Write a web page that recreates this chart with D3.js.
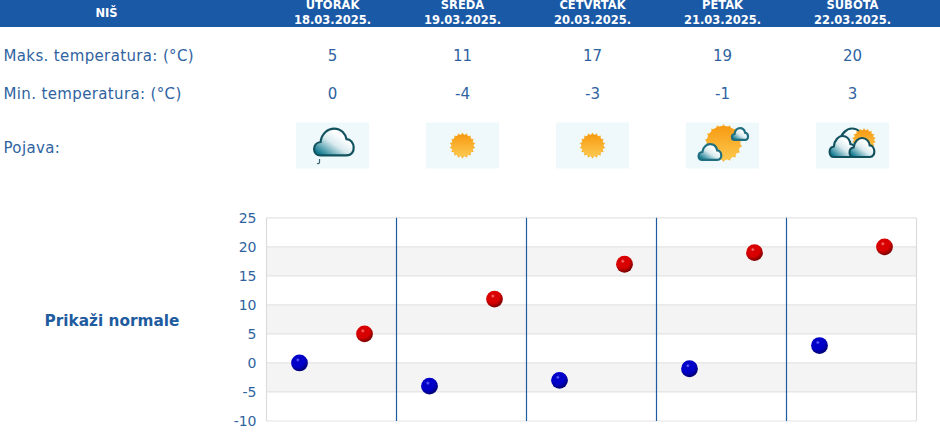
<!DOCTYPE html>
<html>
<head>
<meta charset="utf-8">
<title>NIŠ</title>
<style>
  html, body { margin: 0; padding: 0; background: #fff; overflow: hidden; }
  text { font-family: "DejaVu Sans", sans-serif; fill: #2f639f; }
  .row { font-size: 15px; letter-spacing: 0.36px; }
</style>
<script src="https://d3js.org/d3.v7.min.js"></script>
</head>
<body>
<svg id="chart" width="940" height="443"></svg>
<script>
var city = "NIŠ";
var days = ["UTORAK", "SREDA", "ČETVRTAK", "PETAK", "SUBOTA"];
var dates = ["18.03.2025.", "19.03.2025.", "20.03.2025.", "21.03.2025.", "22.03.2025."];
var maxTemps = [5, 11, 17, 19, 20];
var minTemps = [0, -4, -3, -1, 3];
var weather = ["rain", "sun", "sun", "sunCloud", "cloudSun"];
var yTicks = [25, 20, 15, 10, 5, 0, -5, -10];

var blue = "#2f639f";
var svg = d3.select("#chart");
var defs = svg.append("defs");

function ballGradient(id, light, mid, dark) {
  var g = defs.append("radialGradient").attr("id", id)
    .attr("cx", "40%").attr("cy", "32%").attr("r", "68%");
  g.append("stop").attr("offset", "0%").attr("stop-color", light);
  g.append("stop").attr("offset", "18%").attr("stop-color", mid);
  g.append("stop").attr("offset", "60%").attr("stop-color", mid);
  g.append("stop").attr("offset", "100%").attr("stop-color", dark);
}
ballGradient("ballRed", "#ff8a8a", "#d80000", "#780000");
ballGradient("ballBlue", "#7a7aff", "#0000c8", "#000070");

var sunGrad = defs.append("linearGradient").attr("id", "sunGrad").attr("x1", 0).attr("y1", 0).attr("x2", 0).attr("y2", 1);
sunGrad.append("stop").attr("offset", "0%").attr("stop-color", "#f79a12");
sunGrad.append("stop").attr("offset", "100%").attr("stop-color", "#fdc94e");

var cloudGrad = defs.append("linearGradient").attr("id", "cloudGrad").attr("x1", 0.05).attr("y1", 0.85).attr("x2", 0.65).attr("y2", 0.25);
cloudGrad.append("stop").attr("offset", "0%").attr("stop-color", "#107a90");
cloudGrad.append("stop").attr("offset", "60%").attr("stop-color", "#d8eaee");
cloudGrad.append("stop").attr("offset", "100%").attr("stop-color", "#ffffff");

// scales
var x = d3.scaleBand().domain(days).range([266.5, 916.5]);
var inner = d3.scaleBand().domain(["min", "max"]).range([0, x.bandwidth()]);
var y = d3.scaleLinear().domain([-10, 25]).range([421, 217.8]);
var colShift = 1; // table columns sit 1px right of the plot bands

// header
svg.append("rect").attr("x", 0).attr("y", 0).attr("width", 940).attr("height", 27).attr("fill", "#1a59a6");
svg.append("text").attr("x", 106.5).attr("y", 17).attr("text-anchor", "middle")
  .attr("font-size", 11.5).attr("font-weight", "bold").style("fill", "#fff").text(city);

var cols = svg.append("g").selectAll("g").data(days).join("g")
  .attr("transform", function (d) { return "translate(" + (x(d) + x.bandwidth() / 2 + colShift) + ",0)"; });

cols.append("text").attr("y", 9).attr("text-anchor", "middle")
  .attr("font-size", 11.5).attr("font-weight", "bold").style("fill", "#fff")
  .text(function (d) { return d; });
cols.append("text").attr("y", 24).attr("text-anchor", "middle")
  .attr("font-size", 11.5).attr("font-weight", "bold").style("fill", "#fff")
  .text(function (d, i) { return dates[i]; });

cols.append("text").attr("y", 61).attr("text-anchor", "middle").attr("font-size", 15)
  .text(function (d, i) { return maxTemps[i]; });
cols.append("text").attr("y", 99).attr("text-anchor", "middle").attr("font-size", 15)
  .text(function (d, i) { return minTemps[i]; });

// row labels
svg.append("text").attr("class", "row").attr("x", 3.5).attr("y", 61).text("Maks. temperatura: (°C)");
svg.append("text").attr("class", "row").attr("x", 3.5).attr("y", 99).text("Min. temperatura: (°C)");
svg.append("text").attr("class", "row").attr("x", 3.5).attr("y", 153).text("Pojava:");
svg.append("text").attr("x", 112).attr("y", 326).attr("text-anchor", "middle")
  .attr("font-size", 15.3).attr("font-weight", "bold").style("fill", "#1f5c9f").text("Prikaži normale");

// weather icons
function drawSun(g, cx, cy, r) {
  var tooth = "M-2,-" + (r - 1) + "L0,-" + (r + 2) + "L2,-" + (r - 1) + "Z";
  d3.range(0, 360, 20).forEach(function (a) {
    g.append("path").attr("d", tooth)
      .attr("fill", "#f9ae2c")
      .attr("transform", "translate(" + cx + "," + cy + ") rotate(" + a + ")");
  });
  g.append("circle").attr("cx", cx).attr("cy", cy).attr("r", r).attr("fill", "url(#sunGrad)");
}

function drawCloud(g, cx, cy, sx, sy, stroke) {
  var d = "M-14,14 C-23,14 -23,1 -14,0 C-13,-9 -6,-14 0,-14 C8,-14 12,-8 13,-3 C22,-3 24,14 13,14 Z";
  g.append("path").attr("d", d)
    .attr("transform", "translate(" + cx + "," + cy + ") scale(" + sx + "," + sy + ")")
    .attr("fill", "url(#cloudGrad)").attr("stroke", stroke)
    .attr("stroke-width", 2.2).attr("vector-effect", "non-scaling-stroke");
}

var icons = svg.append("g").selectAll("g").data(days).join("g")
  .attr("transform", function (d) { return "translate(" + (x(d) + x.bandwidth() / 2 + colShift) + ",145.5)"; });
icons.append("rect").attr("x", -36.5).attr("y", -23).attr("width", 73).attr("height", 46).attr("fill", "#eff9fc");
icons.each(function (d, i) {
  var g = d3.select(this);
  var kind = weather[i];
  if (kind === "rain") {
    drawCloud(g, 1.5, -3.5, 0.96, 0.96, "#12525f");
    g.append("path").attr("d", "M-13,13.5 L-13,17 Q-13.5,18.5 -15.5,18")
      .attr("fill", "none").attr("stroke", "#3c6670").attr("stroke-width", 1.2);
  } else if (kind === "sun") {
    drawSun(g, 0, 0, 11);
  } else if (kind === "sunCloud") {
    drawSun(g, 1, -2.5, 17);
    drawCloud(g, 17.5, -11.5, 0.39, 0.42, "#1f6f80");
    drawCloud(g, -12.5, 6.5, 0.55, 0.56, "#1f6f80");
  } else {
    drawCloud(g, -0.5, -3, 0.88, 1.0, "#12525f");
    drawSun(g, 11.5, -5.5, 10);
    drawCloud(g, -10, 1, 0.62, 0.75, "#12525f");
    drawCloud(g, 9.5, 2, 0.6, 0.68, "#12525f");
  }
});

// plot bands
var plot = svg.append("g");
var bandStarts = yTicks.slice(1).filter(function (d) { return d === 15 || d === 5 || d === -5; });
plot.selectAll("rect.band").data(bandStarts).join("rect").attr("class", "band")
  .attr("x", x.range()[0]).attr("width", x.range()[1] - x.range()[0])
  .attr("y", function (d) { return y(d + 5); })
  .attr("height", function (d) { return y(d) - y(d + 5); })
  .attr("fill", "#f4f4f4");

// grid
plot.selectAll("line.grid").data(yTicks).join("line").attr("class", "grid")
  .attr("x1", x.range()[0]).attr("x2", x.range()[1])
  .attr("y1", function (d) { return y(d); }).attr("y2", function (d) { return y(d); })
  .attr("stroke", "#e3e3e3").attr("stroke-width", 1.2);
plot.append("line").attr("x1", x.range()[0]).attr("x2", x.range()[0]).attr("y1", y(25)).attr("y2", y(-10))
  .attr("stroke", "#dcdcdc").attr("stroke-width", 1.2);
plot.append("line").attr("x1", x.range()[1]).attr("x2", x.range()[1]).attr("y1", y(25)).attr("y2", y(-10))
  .attr("stroke", "#dcdcdc").attr("stroke-width", 1.2);

// day separators
plot.selectAll("line.sep").data(days.slice(1)).join("line").attr("class", "sep")
  .attr("x1", function (d) { return x(d); }).attr("x2", function (d) { return x(d); })
  .attr("y1", y(25)).attr("y2", y(-10))
  .attr("stroke", "#1f5c9f").attr("stroke-width", 1.2);

// y axis
var axis = svg.append("g").attr("transform", "translate(" + x.range()[0] + ",0)")
  .call(d3.axisLeft(y).tickValues(yTicks).tickSize(0).tickPadding(10).tickFormat(d3.format("d")));
axis.select(".domain").remove();
axis.selectAll("text").attr("font-size", 14).attr("font-family", null).style("fill", blue);
axis.selectAll("text").text(function (d) { return String(d); });

// points
plot.selectAll("circle.min").data(days).join("circle").attr("class", "min")
  .attr("cx", function (d) { return x(d) + inner("min") + inner.bandwidth() / 2 + 0.5; })
  .attr("cy", function (d, i) { return y(minTemps[i]); })
  .attr("r", 8.4).attr("fill", "url(#ballBlue)");
plot.selectAll("circle.max").data(days).join("circle").attr("class", "max")
  .attr("cx", function (d) { return x(d) + inner("max") + inner.bandwidth() / 2 + 0.5; })
  .attr("cy", function (d, i) { return y(maxTemps[i]); })
  .attr("r", 8.4).attr("fill", "url(#ballRed)");
</script>
</body>
</html>
